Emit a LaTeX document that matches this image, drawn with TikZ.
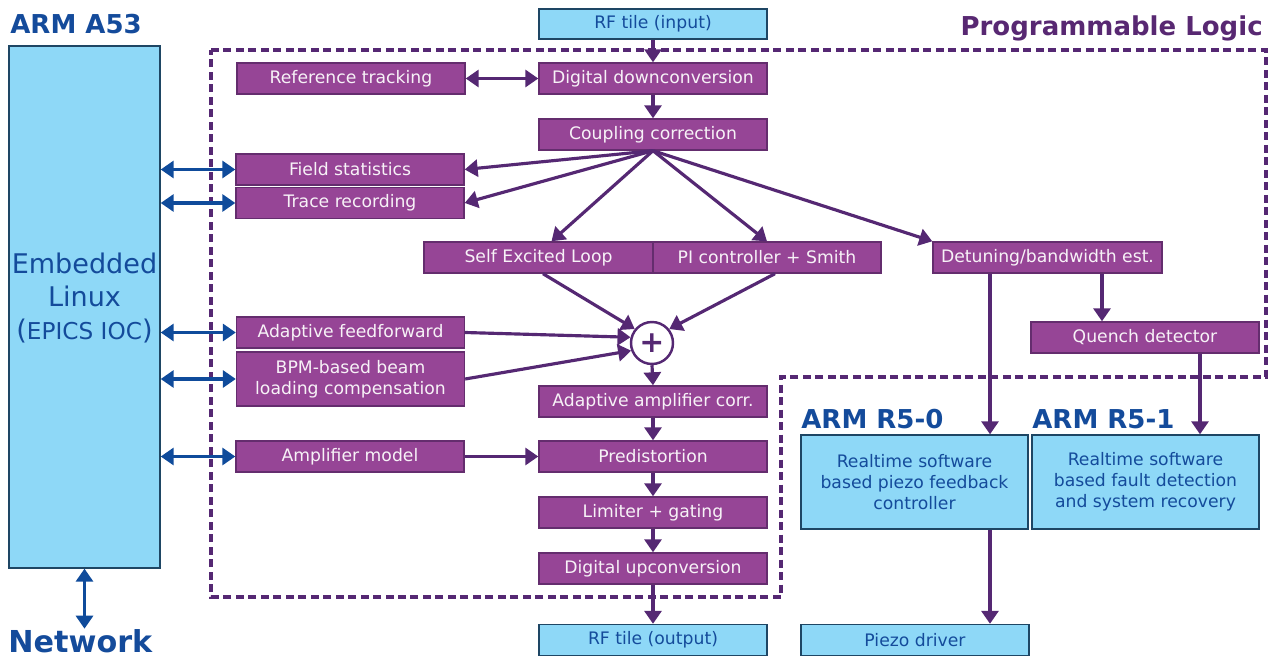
\documentclass[tikz,border=0pt]{standalone}
\usepackage{fontspec}
\setmainfont{DejaVu Sans}
\usetikzlibrary{arrows.meta}

\definecolor{plfill}{RGB}{150,69,150}
\definecolor{plborder}{RGB}{100,45,110}
\definecolor{plarrow}{RGB}{85,40,115}
\definecolor{pltxt}{RGB}{247,242,247}
\definecolor{pltitle}{RGB}{88,40,114}
\definecolor{armfill}{RGB}{142,216,247}
\definecolor{armborder}{RGB}{30,70,100}
\definecolor{armtext}{RGB}{20,75,155}
\definecolor{armarrow}{RGB}{15,75,155}

\tikzset{
  boxfont/.style={font=\fontsize{9.8}{12}\selectfont},
  plbox/.style={boxfont, draw=plborder, fill=plfill, text=pltxt, line width=0.8pt,
    minimum width=4.56cm, minimum height=0.62cm, inner sep=0pt, align=center},
  armbox/.style={boxfont, draw=armborder, fill=armfill, text=armtext, line width=0.8pt,
    minimum width=4.56cm, minimum height=0.62cm, inner sep=0pt, align=center},
  sumnode/.style={circle, draw=plarrow, fill=white, line width=1.4pt, minimum size=0.84cm,
    inner sep=0pt, text=plarrow, font=\fontsize{17}{17}\selectfont\bfseries},
  title/.style={inner sep=0pt, font=\fontsize{14.8}{17}\selectfont\bfseries},
  plarr/.style={-{Triangle[length=0.26cm,width=0.34cm]}, line width=1.8pt, draw=plarrow},
  pldarr/.style={{Triangle[length=0.26cm,width=0.34cm]}-{Triangle[length=0.26cm,width=0.34cm]}, line width=1.8pt, draw=plarrow},
  armdarr/.style={{Triangle[length=0.26cm,width=0.34cm]}-{Triangle[length=0.26cm,width=0.34cm]}, line width=1.8pt, draw=armarrow},
  pldash/.style={draw=plarrow, line width=1.8pt, dash pattern=on 0.16cm off 0.09cm}
}

\begin{document}
\begin{tikzpicture}[x=0.02cm, y=-0.02cm]
\useasboundingbox (0,0) rectangle (1276,660);

% programmable logic region
\draw[pldash] (211,50) -- (1266,50) -- (1266,377) -- (781,377) -- (781,597) -- (211,597) -- cycle;

% titles
\node[title, text=armtext, anchor=base west] (a53title) at (10,33) {ARM A53};
\node[title, text=pltitle, anchor=base east] (pltitle) at (1263,35) {Programmable Logic};
\node[title, text=armtext, anchor=base west] (r50title) at (801,428) {ARM R5-0};
\node[title, text=armtext, anchor=base west] (r51title) at (1032,428) {ARM R5-1};
\node[inner sep=0pt, text=armtext, font=\fontsize{17.2}{20}\selectfont\bfseries, anchor=base west] (network) at (8,652) {Network};

% ARM A53
\node[armbox, minimum width=3.02cm, minimum height=10.44cm] (linux) at (84.5,307) {};
\node[text=armtext, align=center, inner sep=0pt, font=\fontsize{15.4}{18.7}\selectfont] (linuxtxt) at (84.5,298)
  {Embedded\\Linux\\({\fontsize{13.2}{15}\selectfont EPICS IOC})};

% main chain
\node[armbox, minimum height=0.6cm] (rfin) at (653,24) {RF tile (input)};
\node[plbox] (ddc) at (653,78.5) {Digital downconversion};
\node[plbox] (refk) at (351,78.5) {Reference tracking};
\node[plbox] (coupling) at (653,134.5) {Coupling correction};
\node[plbox] (fstat) at (350,169.5) {Field statistics};
\node[plbox] (trace) at (350,203) {Trace recording};
\node[plbox, minimum width=4.58cm] (sel) at (538.5,257.5) {Self Excited Loop};
\node[plbox] (pi) at (767,257.5) {PI controller + Smith};
\node[plbox, minimum width=4.58cm] (detune) at (1047.5,257.5) {Detuning/bandwidth est.};
\node[plbox] (quench) at (1145,337.5) {Quench detector};
\node[sumnode] (sum) at (652,343) {+};
\node[plbox] (aff) at (350.5,332.5) {Adaptive feedforward};
\node[plbox, minimum height=1.08cm] (bpm) at (350.5,379) {BPM-based beam\\loading compensation};
\node[plbox] (aac) at (653,401.5) {Adaptive amplifier corr.};
\node[plbox] (ampmodel) at (350,456.5) {Amplifier model};
\node[plbox] (predist) at (653,456.5) {Predistortion};
\node[plbox] (limiter) at (653,512.5) {Limiter + gating};
\node[plbox] (duc) at (653,568.5) {Digital upconversion};
\node[armbox] (rfout) at (653,640) {RF tile (output)};

% R5 cores
\node[armbox, minimum width=4.54cm, minimum height=1.88cm] (r50) at (914.5,482) {Realtime software\\based piezo feedback\\controller};
\node[armbox, minimum width=4.54cm, minimum height=1.88cm] (r51) at (1145.5,482) {Realtime software\\based fault detection\\and system recovery};
\node[armbox] (piezo) at (915,640) {Piezo driver};

% links to the A53
\draw[armdarr] (linux.east |- fstat.west) -- (fstat.west);
\draw[armdarr] (linux.east |- trace.west) -- (trace.west);
\draw[armdarr] (linux.east |- aff.west) -- (aff.west);
\draw[armdarr] (linux.east |- bpm.west) -- (bpm.west);
\draw[armdarr] (linux.east |- ampmodel.west) -- (ampmodel.west);
\draw[armdarr] (linux.south) -- (linux.south |- network.north);

% signal path
\draw[plarr] (rfin.south) -- (ddc.north);
\draw[pldarr] (refk.east) -- (ddc.west);
\draw[plarr] (ddc.south) -- (coupling.north);
\draw[plarr] (coupling.south) -- (fstat.east);
\draw[plarr] (coupling.south) -- (trace.east);
\draw[plarr] (coupling.south) -- ([xshift=0.26cm]sel.north);
\draw[plarr] (coupling.south) -- (pi.north);
\draw[plarr] (coupling.south) -- (detune.north west);
\draw[plarr] ([xshift=0.09cm]sel.south) -- (sum.141);
\draw[plarr] ([xshift=0.16cm]pi.south) -- (sum.39);
\draw[plarr] (aff.east) -- (sum.165);
\draw[plarr] (bpm.east) -- (sum.200);
\draw[plarr] (sum.south) -- (aac.north);
\draw[plarr] (aac.south) -- (predist.north);
\draw[plarr] (ampmodel.east) -- (predist.west);
\draw[plarr] (predist.south) -- (limiter.north);
\draw[plarr] (limiter.south) -- (duc.north);
\draw[plarr] (duc.south) -- (rfout.north);

% detuning and quench paths
\draw[plarr] ([xshift=-1.15cm]detune.south) -- ([xshift=-1.15cm]detune.south |- r50.north);
\draw[plarr] ([xshift=1.09cm]detune.south) -- ([xshift=1.09cm]detune.south |- quench.north);
\draw[plarr] ([xshift=1.1cm]quench.south) -- ([xshift=1.1cm]quench.south |- r51.north);
\draw[plarr] ([xshift=1.51cm]r50.south) -- ([xshift=1.51cm]r50.south |- piezo.north);
\end{tikzpicture}
\end{document}
